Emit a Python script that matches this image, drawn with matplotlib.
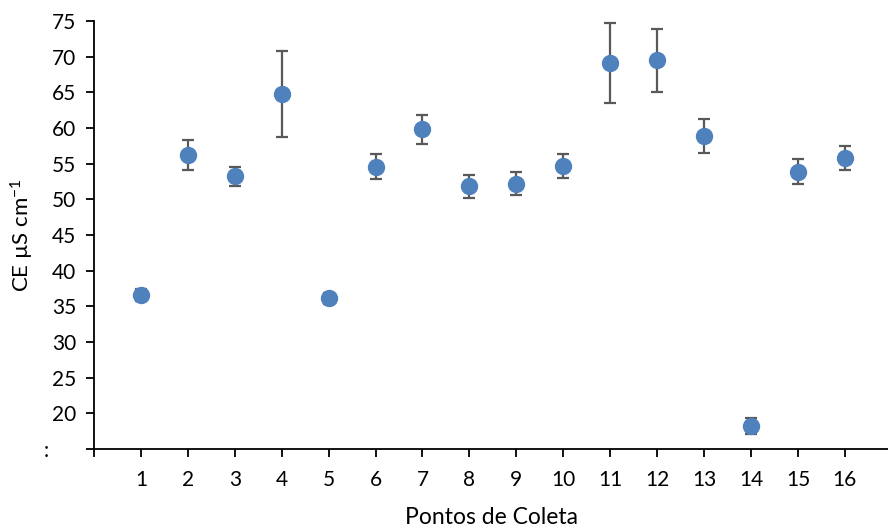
import numpy as np
import matplotlib
matplotlib.use("Agg")
import matplotlib.pyplot as plt

plt.rcParams['font.family'] = ['Lato', 'DejaVu Sans']
plt.rcParams['mathtext.default'] = 'regular'

# --------------------------------------------------- data
pontos = np.arange(1, 17)
ce = [36.6, 56.15, 53.25, 64.8, 36.1, 54.55, 59.8, 51.8,
      52.2, 54.7, 69.1, 69.5, 58.9, 18.2, 53.85, 55.8]
erro = [0.9, 2.1, 1.35, 6.0, 0.8, 1.75, 2.0, 1.6,
        1.6, 1.65, 5.6, 4.4, 2.35, 1.1, 1.75, 1.7]
y_ticks = np.arange(15, 80, 5)
y_labels = [':     '] + [str(v) for v in y_ticks[1:]]

# --------------------------------------------------- plotting
fig = plt.figure(figsize=(8.88, 5.31), dpi=100)
ax = fig.add_axes([94 / 888, 1 - 449 / 531, 794 / 888, 428 / 531])

ax.errorbar(pontos, ce, yerr=erro, fmt='o', color='#4F81BD', markersize=11.5,
            ecolor='#595959', elinewidth=1.6, capsize=4.5, capthick=1.6, zorder=3)

ax.set_xlim(0, 16.92)
ax.set_ylim(15, 75)
ax.set_xticks(np.arange(0, 17))
ax.set_xticklabels([''] + [str(p) for p in pontos])
ax.set_yticks(y_ticks)
ax.set_yticklabels(y_labels)

for s in ['top', 'right']:
    ax.spines[s].set_visible(False)
for s in ['left', 'bottom']:
    ax.spines[s].set_linewidth(1.3)
    ax.spines[s].set_color('black')
ax.tick_params(axis='both', direction='out', length=6, width=1.3, labelsize=15)
ax.tick_params(axis='x', pad=9)
ax.tick_params(axis='y', pad=7)

ax.set_xlabel("Pontos de Coleta", fontsize=16.5, labelpad=12)
ax.set_ylabel("CE µS cm$^{-1}$", fontsize=16, labelpad=6)

fig.savefig("out.png", dpi=100)
